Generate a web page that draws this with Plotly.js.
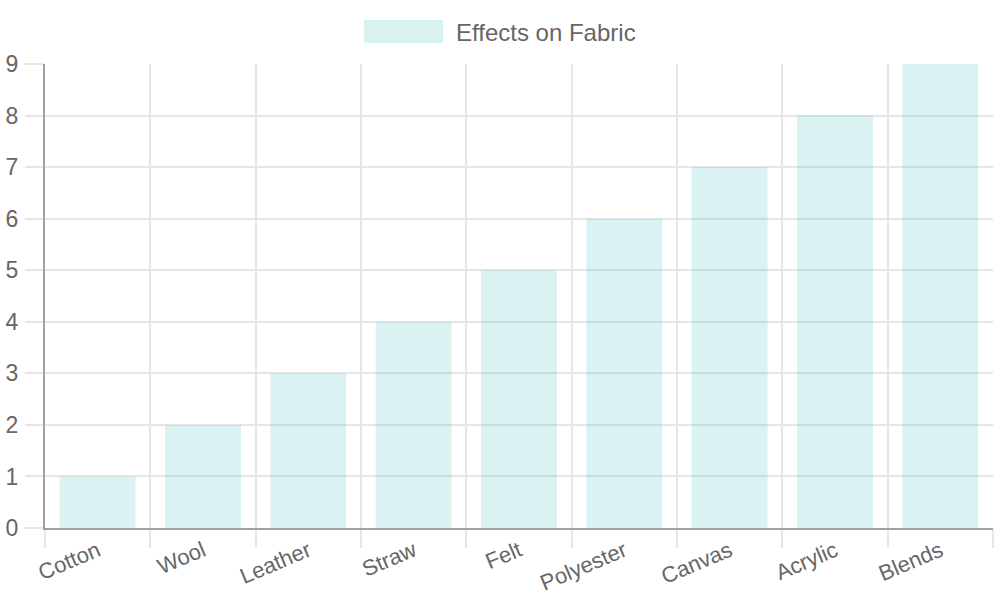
<!DOCTYPE html>
<html>
<head>
<meta charset="utf-8">
<script src="https://cdn.plot.ly/plotly-3.0.1.min.js"></script>
<style>html,body{margin:0;padding:0;background:#fff;}#chart{width:1000px;height:600px;}</style>
</head>
<body>
<div id="chart"></div>
<script>
const categories = ["Cotton", "Wool", "Leather", "Straw", "Felt", "Polyester", "Canvas", "Acrylic", "Blends"];
const values = [1, 2, 3, 4, 5, 6, 7, 8, 9];
const seriesName = "Effects on Fabric";
const yTicks = [0, 1, 2, 3, 4, 5, 6, 7, 8, 9];

const boundaries = [];
for (let i = 0; i <= categories.length; i++) boundaries.push(i - 0.5);

const font = "Liberation Sans, Arial, sans-serif";
const fill = "rgba(75,192,192,0.2)";
const grid = "#e6e6e6";

const data = [
  {
    type: "bar",
    x: categories,
    y: values,
    name: seriesName,
    width: 0.72,
    marker: { color: fill, line: { width: 0 } },
    showlegend: false,
    hoverinfo: "x+y"
  },
  {
    type: "scatter",
    x: [boundaries[0]],
    y: [0],
    xaxis: "x2",
    mode: "markers",
    marker: { opacity: 0 },
    showlegend: false,
    hoverinfo: "skip"
  }
];

const layout = {
  width: 1000,
  height: 600,
  margin: { l: 45, r: 7, t: 64, b: 72 },
  paper_bgcolor: "#fff",
  plot_bgcolor: "#fff",
  font: { family: font, color: "#666" },
  showlegend: false,
  xaxis: {
    type: "category",
    range: [-0.5, categories.length - 0.5],
    showgrid: false,
    ticks: "",
    tickangle: -23,
    ticklabelstandoff: 5,
    tickfont: { size: 22, color: "#666", family: font },
    showline: false,
    zeroline: false,
    fixedrange: true
  },
  xaxis2: {
    overlaying: "x",
    anchor: "y",
    side: "bottom",
    range: [-0.5, categories.length - 0.5],
    tickmode: "array",
    tickvals: boundaries,
    showticklabels: false,
    showgrid: true,
    gridcolor: grid,
    gridwidth: 2,
    ticks: "outside",
    ticklen: 18,
    tickcolor: grid,
    tickwidth: 2,
    showline: true,
    linecolor: "#a0a0a0",
    linewidth: 2,
    zeroline: false,
    layer: "above traces"
  },
  yaxis: {
    range: [0, 9],
    tickmode: "array",
    tickvals: yTicks,
    showgrid: true,
    gridcolor: grid,
    gridwidth: 2,
    ticks: "outside",
    ticklen: 18,
    tickcolor: grid,
    tickwidth: 2,
    tickfont: { size: 23, color: "#666", family: font },
    ticklabelstandoff: 2,
    showline: true,
    linecolor: "#a0a0a0",
    linewidth: 2,
    zeroline: false,
    layer: "above traces",
    fixedrange: true
  },
  shapes: [
    {
      type: "rect", xref: "paper", yref: "paper",
      x0: (364 - 45) / 948, x1: (443 - 45) / 948,
      y0: (528 - 43) / 464, y1: (528 - 20) / 464,
      fillcolor: fill, line: { width: 0 }
    }
  ],
  annotations: [
    {
      xref: "paper", yref: "paper",
      x: (454 - 45) / 948, y: (528 - 32) / 464,
      xanchor: "left", yanchor: "middle",
      text: seriesName, showarrow: false,
      font: { size: 24, color: "#666", family: font }
    }
  ]
};

Plotly.newPlot("chart", data, layout, { displayModeBar: false, staticPlot: true });
</script>
</body>
</html>
